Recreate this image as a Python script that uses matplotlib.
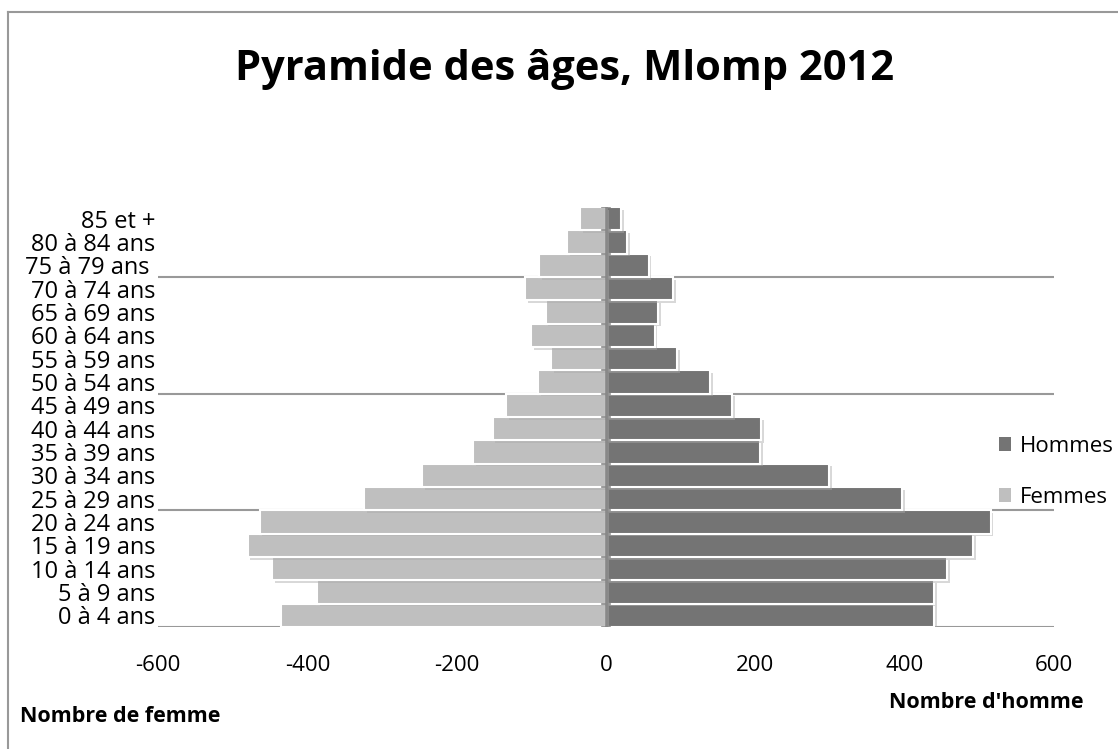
import matplotlib
matplotlib.use('Agg')
import matplotlib.pyplot as plt
from matplotlib.lines import Line2D
from matplotlib.patches import Patch
import matplotlib.patheffects as pe

plt.rcParams['font.family'] = ['Open Sans', 'DejaVu Sans']

ages = ['0 à 4 ans', '5 à 9 ans', '10 à 14 ans', '15 à 19 ans', '20 à 24 ans',
        '25 à 29 ans', '30 à 34 ans', '35 à 39 ans', '40 à 44 ans', '45 à 49 ans',
        '50 à 54 ans', '55 à 59 ans', '60 à 64 ans', '65 à 69 ans', '70 à 74 ans',
        '75 à 79 ans ', '80 à 84 ans', '85 et +']
hommes = [439, 439, 457, 492, 515, 397, 299, 206, 208, 169,
          139, 95, 65, 70, 90, 57, 28, 20]
femmes = [-435, -387, -447, -480, -464, -324, -246, -178, -152, -134,
          -91, -74, -100, -81, -108, -90, -52, -35]
xticks = [-600, -400, -200, 0, 200, 400, 600]

c_h = '#747474'
c_f = '#bfbfbf'

W, H = 1118, 749
fig = plt.figure(figsize=(W/100, H/100), dpi=100)
ax = fig.add_axes([158/W, 1-627/H, (1054-158)/W, (627-207)/H])

y = range(len(ages))
shadow = [pe.SimplePatchShadow(offset=(2, -2), shadow_rgbFace='#aaaaaa', alpha=0.45), pe.Normal()]
bh = ax.barh(y, hommes, height=1.0, color=c_h, edgecolor='white', linewidth=1.5, zorder=3)
bf = ax.barh(y, femmes, height=1.0, color=c_f, edgecolor='white', linewidth=1.5, zorder=3)
for b in list(bh) + list(bf):
    b.set_path_effects(shadow)

ax.set_xlim(-600, 600)
ax.set_ylim(-0.5, len(ages)-0.5)

for g in [-0.5, 4.5, 9.5, 14.5]:
    ax.axhline(g, color='#999999', lw=1.5, zorder=1)
ax.axvline(0, color='#888888', lw=2, zorder=4)
# petites graduations sur l'axe central
for k in range(len(ages)+1):
    ax.plot([-5, 5], [k-0.5, k-0.5], color='#888888', lw=1.2, zorder=4)

for s in ax.spines.values():
    s.set_visible(False)
ax.set_xticks(xticks)
ax.set_xticklabels([str(v) for v in xticks], fontsize=16)
ax.set_yticks(list(y))
ax.set_yticklabels(ages, fontsize=17)
ax.tick_params(axis='both', length=0)
ax.tick_params(axis='y', pad=2)
ax.tick_params(axis='x', pad=20)

fig.text(0.505, 1-70/H, 'Pyramide des âges, Mlomp 2012', ha='center', va='center',
         fontsize=30, fontweight='bold')
fig.text(20/W, 1-716/H, 'Nombre de femme', ha='left', va='center', fontsize=15.5, fontweight='bold')
fig.text(986/W, 1-703/H, "Nombre d'homme", ha='center', va='center', fontsize=15.5, fontweight='bold')

handles = [Patch(facecolor=c_h, label='Hommes'), Patch(facecolor=c_f, label='Femmes')]
ax.legend(handles=handles, loc='center left', bbox_to_anchor=(999/W, 1-472/H),
          bbox_transform=fig.transFigure, frameon=False, fontsize=16,
          handlelength=0.55, handleheight=0.55, handletextpad=0.4, labelspacing=1.35,
          borderpad=0, borderaxespad=0)

fig.add_artist(Line2D([8/W, 8/W], [0, 1-12/H], transform=fig.transFigure, color='#999999', lw=1.5))
fig.add_artist(Line2D([8/W, 1], [1-12/H, 1-12/H], transform=fig.transFigure, color='#999999', lw=1.5))

fig.savefig('out.png', dpi=100)
